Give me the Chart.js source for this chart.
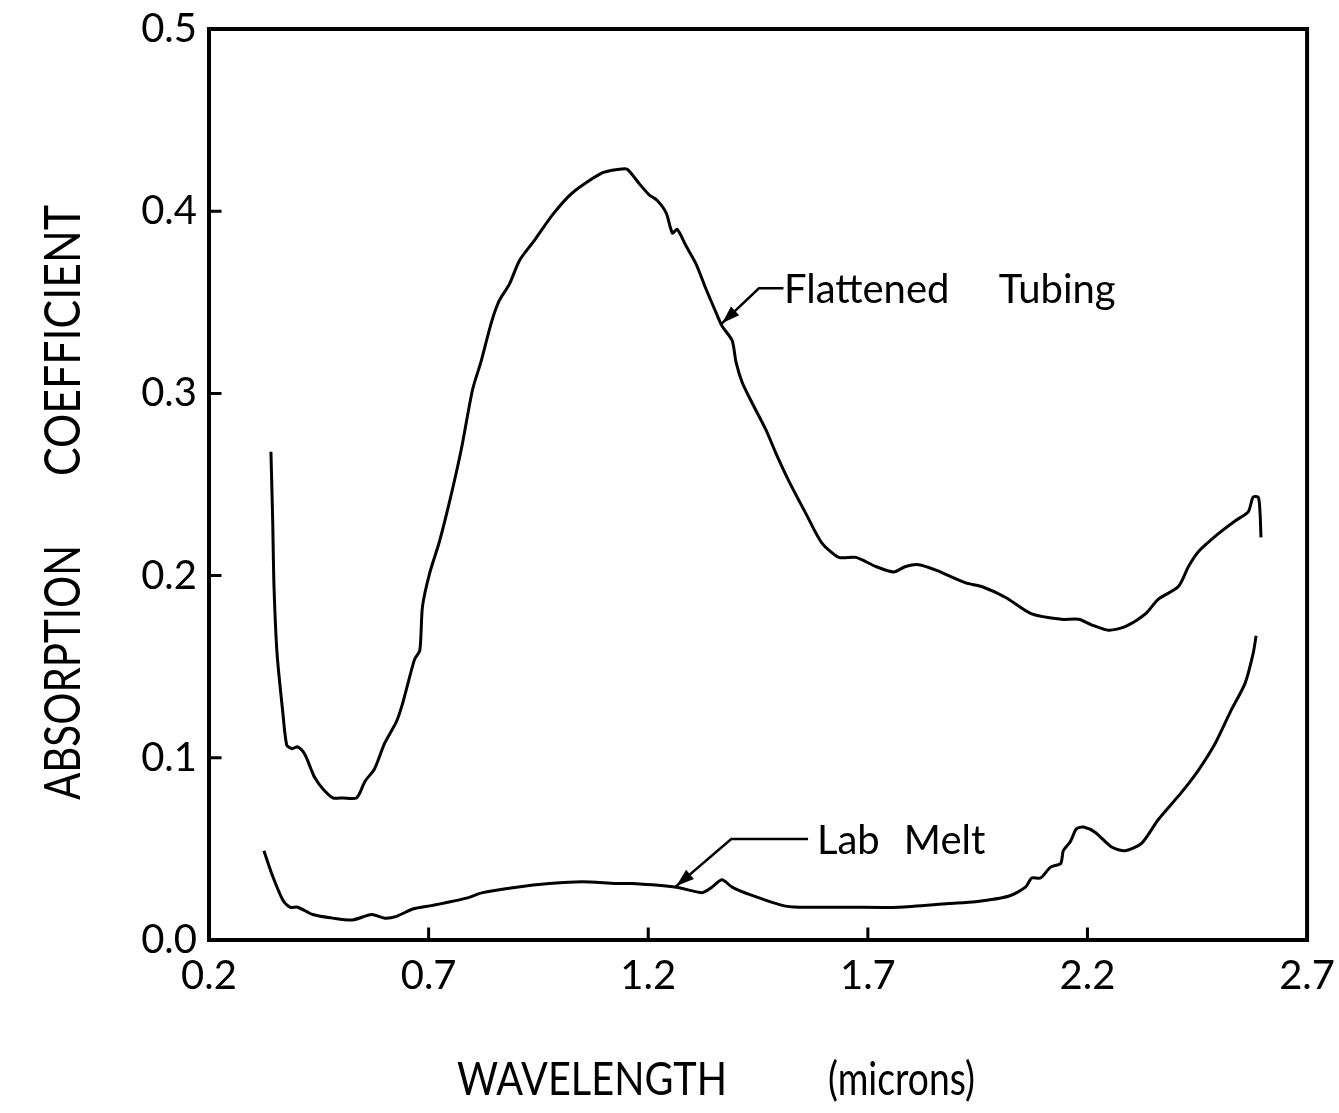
<!DOCTYPE html>
<html>
<head>
<meta charset="utf-8">
<title>Absorption coefficient vs wavelength</title>
<script src="https://cdn.jsdelivr.net/npm/chart.js@4.4.1/dist/chart.umd.min.js"></script>
<style>
  html, body { margin: 0; padding: 0; background: #fff; }
  #wrap { width: 1339px; height: 1113px; position: relative; }
</style>
</head>
<body>
<div id="wrap"><canvas id="absChart"></canvas></div>
<script>
// Absorption coefficient curves
const tubingWavelength = [
  0.341, 0.345, 0.348, 0.355, 0.368, 0.377, 0.389, 0.402, 0.418, 0.432, 0.441, 0.459, 0.482, 0.505,
  0.536, 0.555, 0.577, 0.600, 0.627, 0.641, 0.668, 0.680, 0.686, 0.702, 0.725, 0.752, 0.775, 0.800,
  0.820, 0.843, 0.861, 0.884, 0.907, 0.941, 0.982, 1.027, 1.095, 1.134, 1.152, 1.180, 1.202, 1.220,
  1.241, 1.255, 1.266, 1.286, 1.309, 1.332, 1.355, 1.368, 1.391, 1.400, 1.414, 1.436, 1.468, 1.491,
  1.520, 1.559, 1.595, 1.634, 1.673, 1.718, 1.759, 1.786, 1.816, 1.855, 1.923, 1.959, 2.014, 2.073,
  2.141, 2.180, 2.209, 2.248, 2.286, 2.332, 2.361, 2.407, 2.430, 2.452, 2.498, 2.536, 2.566, 2.577,
  2.589, 2.593, 2.595
];
const tubingAbsorption = [
  0.268, 0.230, 0.194, 0.157, 0.125, 0.107, 0.105, 0.106, 0.102, 0.094, 0.089, 0.083, 0.078, 0.078,
  0.078, 0.087, 0.094, 0.108, 0.120, 0.130, 0.154, 0.159, 0.183, 0.201, 0.219, 0.245, 0.270, 0.302,
  0.318, 0.339, 0.351, 0.360, 0.373, 0.384, 0.398, 0.410, 0.421, 0.423, 0.423, 0.415, 0.409, 0.406,
  0.399, 0.388, 0.390, 0.381, 0.371, 0.357, 0.344, 0.337, 0.329, 0.317, 0.306, 0.295, 0.280, 0.267,
  0.252, 0.234, 0.218, 0.210, 0.210, 0.205, 0.202, 0.205, 0.206, 0.203, 0.196, 0.194, 0.188, 0.179,
  0.176, 0.176, 0.173, 0.170, 0.172, 0.179, 0.187, 0.194, 0.205, 0.213, 0.223, 0.230, 0.235, 0.243,
  0.243, 0.234, 0.221
];
const meltWavelength = [
  0.325, 0.345, 0.368, 0.384, 0.402, 0.436, 0.482, 0.527, 0.570, 0.600, 0.627, 0.664, 0.709, 0.786,
  0.823, 0.900, 0.975, 1.050, 1.127, 1.164, 1.264, 1.323, 1.345, 1.368, 1.391, 1.430, 1.505, 1.543,
  1.657, 1.770, 1.884, 1.945, 2.020, 2.059, 2.073, 2.093, 2.116, 2.139, 2.145, 2.161, 2.175, 2.191,
  2.218, 2.255, 2.286, 2.323, 2.361, 2.414, 2.452, 2.491, 2.527, 2.559, 2.577, 2.584
];
const meltAbsorption = [
  0.049, 0.035, 0.022, 0.018, 0.018, 0.014, 0.012, 0.011, 0.014, 0.012, 0.013, 0.017, 0.019, 0.023,
  0.026, 0.029, 0.031, 0.032, 0.031, 0.031, 0.029, 0.026, 0.029, 0.033, 0.029, 0.025, 0.019, 0.018,
  0.018, 0.018, 0.020, 0.021, 0.024, 0.029, 0.034, 0.034, 0.040, 0.042, 0.049, 0.054, 0.061, 0.062,
  0.059, 0.051, 0.049, 0.053, 0.066, 0.081, 0.093, 0.108, 0.126, 0.141, 0.157, 0.167
];
const xTickValues = [0.2, 0.7, 1.2, 1.7, 2.2, 2.7];
const yTickValues = [0.0, 0.1, 0.2, 0.3, 0.4, 0.5];

// callout labels, in data units: arrow tip, elbow, end of the short horizontal, text start
const callouts = [
  { words: [['Flattened', 1.509], ['Tubing', 1.998]], tip: [1.368, 0.3385], elbow: [1.452, 0.3577], end: [1.505, 0.3577] },
  { words: [['Lab', 1.584], ['Melt', 1.782]], tip: [1.264, 0.0296], elbow: [1.389, 0.0554], end: [1.561, 0.0554] },
];

const FONT = 'Lato, "Noto Sans", sans-serif';

function toPoints(xs, ys) {
  return xs.map((x, i) => ({ x, y: ys[i] }));
}

// draw text between two positions along the baseline direction, squeezed to fit
function spanText(ctx, text, from, to, mid, size) {
  ctx.font = size + 'px ' + FONT;
  const w = ctx.measureText(text).width;
  ctx.save();
  ctx.translate(from, mid);
  ctx.scale((to - from) / w, 1);
  ctx.textAlign = 'left';
  ctx.textBaseline = 'middle';
  ctx.fillText(text, 0, 0);
  ctx.restore();
}

const paperPlugin = {
  id: 'paper',
  afterDraw(chart) {
    const { ctx, chartArea: a, scales: { x, y } } = chart;
    ctx.save();
    ctx.strokeStyle = '#000';
    ctx.fillStyle = '#000';
    ctx.lineCap = 'square';

    // frame
    ctx.lineWidth = 4;
    ctx.strokeRect(a.left, a.top, a.right - a.left, a.bottom - a.top);

    // inward tick marks
    ctx.lineWidth = 3;
    ctx.beginPath();
    xTickValues.slice(1, -1).forEach(v => {
      const px = x.getPixelForValue(v);
      ctx.moveTo(px, a.bottom);
      ctx.lineTo(px, a.bottom - 11);
    });
    yTickValues.slice(1, -1).forEach(v => {
      const py = y.getPixelForValue(v);
      ctx.moveTo(a.left, py);
      ctx.lineTo(a.left + 11, py);
    });
    ctx.stroke();

    // axis titles
    spanText(ctx, 'WAVELENGTH', 457, 727, 1080, 47);
    spanText(ctx, '(microns)', 828, 975, 1080, 47);
    ctx.save();
    ctx.translate(64, 0);
    ctx.rotate(-Math.PI / 2);
    spanText(ctx, 'ABSORPTION', -800, -545, 0, 50);
    spanText(ctx, 'COEFFICIENT', -476, -205, 0, 50);
    ctx.restore();

    // callouts
    ctx.lineWidth = 2.5;
    ctx.font = '40px ' + FONT;
    ctx.textAlign = 'left';
    ctx.textBaseline = 'middle';
    callouts.forEach(c => {
      const tx = x.getPixelForValue(c.tip[0]), ty = y.getPixelForValue(c.tip[1]);
      const ex = x.getPixelForValue(c.elbow[0]), ey = y.getPixelForValue(c.elbow[1]);
      const nx = x.getPixelForValue(c.end[0]), ny = y.getPixelForValue(c.end[1]);
      ctx.beginPath();
      ctx.moveTo(nx, ny);
      ctx.lineTo(ex, ey);
      ctx.lineTo(tx, ty);
      ctx.stroke();
      const ang = Math.atan2(ty - ey, tx - ex);
      const len = 18, half = 6;
      ctx.beginPath();
      ctx.moveTo(tx, ty);
      ctx.lineTo(tx - len * Math.cos(ang) + half * Math.sin(ang), ty - len * Math.sin(ang) - half * Math.cos(ang));
      ctx.lineTo(tx - len * Math.cos(ang) - half * Math.sin(ang), ty - len * Math.sin(ang) + half * Math.cos(ang));
      ctx.closePath();
      ctx.fill();
      c.words.forEach(([w, wx]) => ctx.fillText(w, x.getPixelForValue(wx), ny + 2));
    });
    ctx.restore();
  }
};

const lineStyle = {
  borderColor: '#000',
  borderWidth: 3,
  pointRadius: 0,
  showLine: true,
  tension: 0.25,
  fill: false,
};

new Chart(document.getElementById('absChart'), {
  type: 'scatter',
  data: {
    datasets: [
      { label: 'Flattened Tubing', data: toPoints(tubingWavelength, tubingAbsorption), ...lineStyle },
      { label: 'Lab Melt', data: toPoints(meltWavelength, meltAbsorption), ...lineStyle },
    ],
  },
  options: {
    responsive: true,
    maintainAspectRatio: false,
    animation: false,
    layout: { padding: { left: 0, top: 29, right: 30, bottom: 0 } },
    plugins: { legend: { display: false }, tooltip: { enabled: false } },
    scales: {
      x: {
        type: 'linear', min: 0.2, max: 2.7,
        grid: { display: false },
        border: { display: false },
        afterBuildTicks: s => { s.ticks = xTickValues.map(v => ({ value: v })); },
        afterFit: s => { s.height = 173; },
        ticks: { color: '#000', padding: 4, font: { family: FONT, size: 40 }, maxRotation: 0, autoSkip: false,
          callback: v => v.toFixed(1) },
      },
      y: {
        type: 'linear', min: 0, max: 0.5,
        grid: { display: false },
        border: { display: false },
        afterBuildTicks: s => { s.ticks = yTickValues.map(v => ({ value: v })); },
        afterFit: s => { s.width = 209; },
        ticks: { color: '#000', padding: 4, font: { family: FONT, size: 40 }, autoSkip: false,
          callback: v => v.toFixed(1) },
      },
    },
  },
  plugins: [paperPlugin],
});
</script>
</body>
</html>
